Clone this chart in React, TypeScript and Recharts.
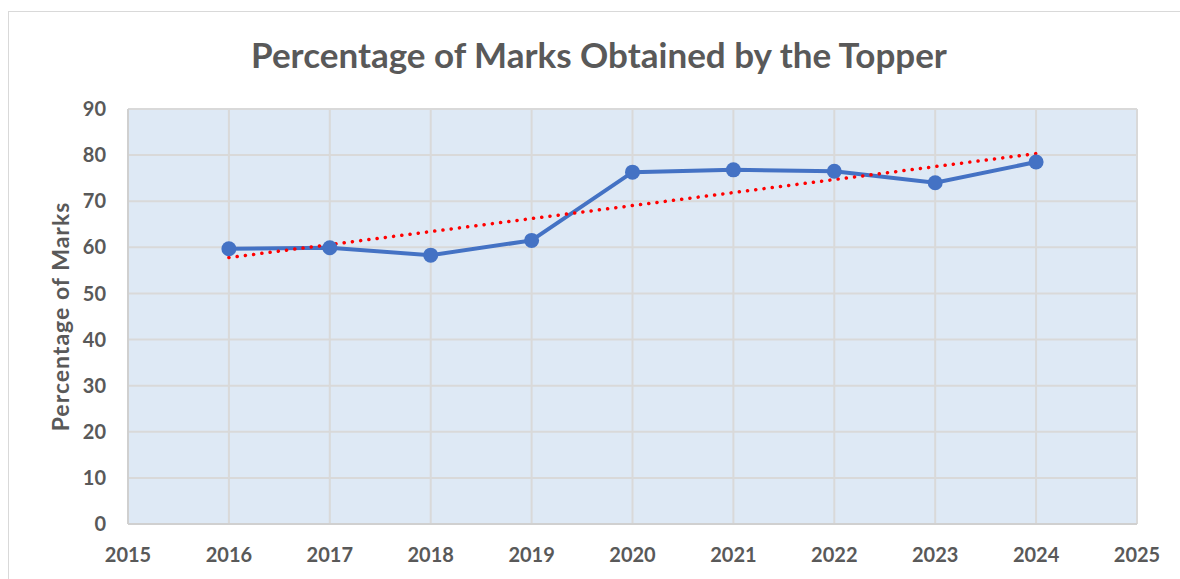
import { LineChart, Line, XAxis, YAxis, CartesianGrid, Label } from 'recharts';

const years = [2016, 2017, 2018, 2019, 2020, 2021, 2022, 2023, 2024];
const marks = [59.7, 59.9, 58.3, 61.5, 76.3, 76.8, 76.5, 74.0, 78.5];
const xTicks = [2015, 2016, 2017, 2018, 2019, 2020, 2021, 2022, 2023, 2024, 2025];
const yTicks = [0, 10, 20, 30, 40, 50, 60, 70, 80, 90];

const data = years.map((year, i) => ({ year, marks: marks[i] }));

// linear trendline (least squares), drawn between first and last year
function trendline(xs: number[], ys: number[]) {
  const n = xs.length;
  const mx = xs.reduce((s, v) => s + v, 0) / n;
  const my = ys.reduce((s, v) => s + v, 0) / n;
  let num = 0;
  let den = 0;
  xs.forEach((x, i) => {
    num += (x - mx) * (ys[i] - my);
    den += (x - mx) * (x - mx);
  });
  const slope = num / den;
  const first = xs[0];
  const last = xs[n - 1];
  return [
    { year: first, trend: my + slope * (first - mx) },
    { year: last, trend: my + slope * (last - mx) },
  ];
}

const trendData = trendline(years, marks);

const FONT = 'Lato, "Open Sans", sans-serif';
const TEXT = '#595959';

export default function App() {
  return (
    <div
      style={{
        position: 'absolute',
        left: 8,
        top: 11,
        width: 1200,
        height: 580,
        borderTop: '1px solid #d9d9d9',
        borderLeft: '1px solid #d9d9d9',
        background: '#fff',
        fontFamily: FONT,
      }}
    >
      <div
        style={{
          position: 'absolute',
          left: 0,
          width: 1180,
          top: 21,
          textAlign: 'center',
          fontSize: 35,
          fontWeight: 700,
          color: TEXT,
          whiteSpace: 'nowrap',
        }}
      >
        Percentage of Marks Obtained by the Topper
      </div>
      <LineChart
        width={1164}
        height={567}
        data={data}
        margin={{ top: 98, right: 35, left: 0, bottom: 4 }}
        style={{ position: 'absolute', left: -1, top: -1 }}
      >
        <CartesianGrid stroke="#d9d9d9" strokeWidth={2} fill="#dee9f5" fillOpacity={1} />
        <XAxis
          dataKey="year"
          type="number"
          domain={[2015, 2025]}
          ticks={xTicks}
          interval={0}
          height={50}
          tickLine={false}
          tickSize={0}
          tickMargin={24}
          axisLine={{ stroke: '#d0d0d0', strokeWidth: 2 }}
          tick={{ fill: TEXT, fontSize: 20, fontWeight: 700, fontFamily: FONT }}
        />
        <YAxis
          domain={[0, 90]}
          ticks={yTicks}
          interval={0}
          width={120}
          tickLine={false}
          tickSize={0}
          tickMargin={22}
          axisLine={{ stroke: '#d0d0d0', strokeWidth: 2 }}
          tick={{ fill: TEXT, fontSize: 20, fontWeight: 700, fontFamily: FONT }}
        >
          <Label
            value="Percentage of Marks"
            angle={-90}
            position="insideLeft"
            offset={53}
            style={{
              textAnchor: 'middle',
              fill: TEXT,
              fontSize: 23,
              fontWeight: 700,
              fontFamily: FONT,
              letterSpacing: 1,
            }}
          />
        </YAxis>
        <Line
          dataKey="marks"
          type="linear"
          stroke="#4472c4"
          strokeWidth={4}
          dot={{ r: 7.5, fill: '#4472c4', stroke: '#4472c4', strokeWidth: 0 }}
          activeDot={false}
          isAnimationActive={false}
        />
        <Line
          data={trendData}
          dataKey="trend"
          type="linear"
          stroke="#ff0000"
          strokeWidth={3.5}
          strokeDasharray="0.1 8.2"
          strokeLinecap="round"
          dot={false}
          activeDot={false}
          isAnimationActive={false}
        />
      </LineChart>
    </div>
  );
}
